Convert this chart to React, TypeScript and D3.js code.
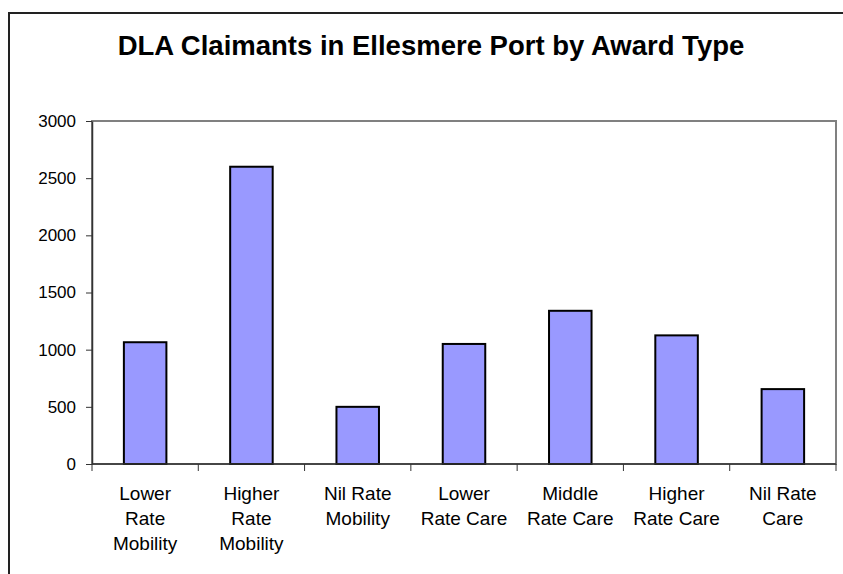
import { useEffect, useRef } from "react";
import * as d3 from "d3";

const title = "DLA Claimants in Ellesmere Port by Award Type";
const categories = [
  "Lower\nRate\nMobility",
  "Higher\nRate\nMobility",
  "Nil Rate\nMobility",
  "Lower\nRate Care",
  "Middle\nRate Care",
  "Higher\nRate Care",
  "Nil Rate\nCare",
];
const claimants = [1065, 2600, 500, 1050, 1340, 1125, 655];
const yTicks = [0, 500, 1000, 1500, 2000, 2500, 3000];

const App = () => {
  const svgRef = useRef<SVGSVGElement>(null);
  const width = 843;
  const height = 574;

  useEffect(() => {
    const svg = d3.select(svgRef.current);
    svg.selectAll("*").remove();

    // plot area bounds
    const left = 92;
    const right = 836;
    const top = 121;
    const bottom = 464;

    // outer chart frame (runs off the right and bottom edges)
    svg
      .append("rect")
      .attr("x", 9)
      .attr("y", 13)
      .attr("width", width + 20)
      .attr("height", height + 20)
      .attr("fill", "white")
      .attr("stroke", "#222")
      .attr("stroke-width", 2);

    svg
      .append("text")
      .attr("x", 431)
      .attr("y", 55)
      .attr("text-anchor", "middle")
      .attr("font-family", "Arial, 'Liberation Sans', sans-serif")
      .attr("font-weight", "bold")
      .attr("font-size", 27.5)
      .text(title);

    const xScale = d3
      .scaleBand()
      .domain(categories)
      .range([left, right])
      .paddingInner(0.6)
      .paddingOuter(0.3);
    const yScale = d3.scaleLinear().domain([0, 3000]).range([bottom, top]);

    // plot border
    svg
      .append("rect")
      .attr("x", left)
      .attr("y", top)
      .attr("width", right - left)
      .attr("height", bottom - top)
      .attr("fill", "white")
      .attr("stroke", "#808080")
      .attr("stroke-width", 2);

    // bars
    svg
      .selectAll(".bar")
      .data(claimants)
      .enter()
      .append("rect")
      .attr("class", "bar")
      .attr("x", (d, i) => xScale(categories[i]))
      .attr("y", (d) => yScale(d))
      .attr("width", xScale.bandwidth())
      .attr("height", (d) => bottom - yScale(d))
      .attr("fill", "#9999FF")
      .attr("stroke", "black")
      .attr("stroke-width", 2);

    // y axis
    const yAxis = d3
      .axisLeft(yScale)
      .tickValues(yTicks)
      .tickFormat(d3.format("d"))
      .tickSize(6)
      .tickPadding(10)
      .tickSizeOuter(0);
    const gy = svg.append("g").attr("transform", `translate(${left},0)`).call(yAxis);
    gy.select(".domain").attr("stroke", "#333").attr("stroke-width", 1.5);
    gy.selectAll(".tick line").attr("stroke", "#333");
    gy.selectAll(".tick text")
      .attr("font-family", "Arial, 'Liberation Sans', sans-serif")
      .attr("font-size", 17)
      .attr("fill", "black");

    // x axis: line with ticks at category boundaries
    const step = (right - left) / categories.length;
    const bounds = d3.range(categories.length + 1).map((i) => left + i * step);
    svg
      .append("line")
      .attr("x1", left)
      .attr("x2", right)
      .attr("y1", bottom)
      .attr("y2", bottom)
      .attr("stroke", "#333")
      .attr("stroke-width", 1.5);
    svg
      .selectAll(".xtick")
      .data(bounds)
      .enter()
      .append("line")
      .attr("x1", (d) => d)
      .attr("x2", (d) => d)
      .attr("y1", bottom)
      .attr("y2", bottom + 7)
      .attr("stroke", "#333");

    // category labels
    const labels = svg
      .selectAll(".xlabel")
      .data(categories)
      .enter()
      .append("text")
      .attr("text-anchor", "middle")
      .attr("font-family", "Arial, 'Liberation Sans', sans-serif")
      .attr("font-size", 19)
      .attr("fill", "black");
    labels
      .selectAll("tspan")
      .data((d) => d.split("\n").map((t) => ({ t, c: d })))
      .enter()
      .append("tspan")
      .attr("x", (d) => xScale(d.c)! + xScale.bandwidth() / 2)
      .attr("y", (d, i) => 500 + i * 25)
      .text((d) => d.t);
  }, []);

  return (
    <svg
      ref={svgRef}
      width={width}
      height={height}
      style={{ position: "absolute", left: 0, top: 0 }}
    />
  );
};

export default App;
